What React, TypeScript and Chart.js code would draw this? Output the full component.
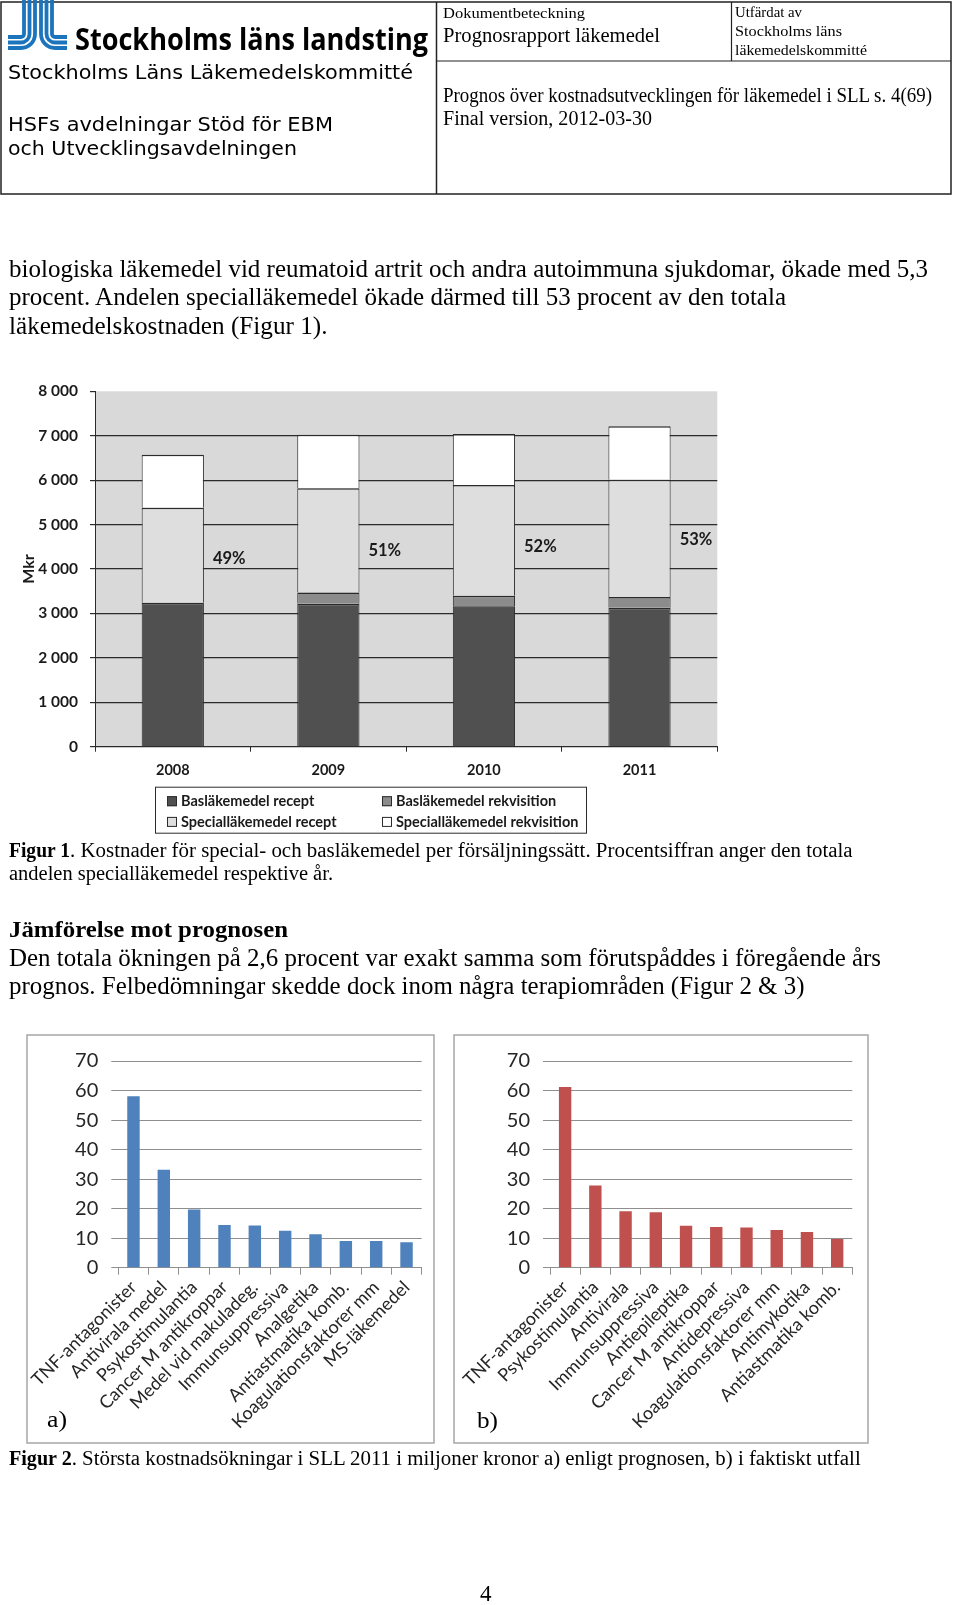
import React, { useEffect, useRef } from "react";
import { Chart, registerables } from "chart.js";

Chart.register(...registerables);

// ---------- Figur 1 data ----------
const years = ["2008", "2009", "2010", "2011"];
const basRecept = [3240, 3220, 3160, 3130];
const basRekvisition = [0, 250, 240, 240];
const specRecept = [2140, 2350, 2490, 2640];
const specRekvisition = [1190, 1200, 1150, 1205];
const shareLabels = ["49%", "51%", "52%", "53%"];
const shareLabelLevels = [4240, 4410, 4500, 4660];
const seriesNames = [
  "Basläkemedel recept",
  "Basläkemedel rekvisition",
  "Specialläkemedel recept",
  "Specialläkemedel rekvisition",
];

// ---------- Figur 2 data ----------
const forecastCategories = [
  "TNF-antagonister",
  "Antivirala medel",
  "Psykostimulantia",
  "Cancer M antikroppar",
  "Medel vid makuladeg.",
  "Immunsuppressiva",
  "Analgetika",
  "Antiastmatika komb.",
  "Koagulationsfaktorer mm",
  "MS-läkemedel",
];
const forecastValues = [58.1, 33.2, 19.7, 14.5, 14.3, 12.5, 11.3, 9.0, 9.0, 8.6];
const actualCategories = [
  "TNF-antagonister",
  "Psykostimulantia",
  "Antivirala",
  "Immunsuppressiva",
  "Antiepileptika",
  "Cancer M antikroppar",
  "Antidepressiva",
  "Koagulationsfaktorer mm",
  "Antimykotika",
  "Antiastmatika komb.",
];
const actualValues = [61.2, 27.8, 19.1, 18.8, 14.2, 13.8, 13.6, 12.8, 12.1, 9.7];

const DARK = "#2b2b2b";
const stackColors = ["#505050", "#8c8c8c", "#dedede", "#ffffff"];

function fmtThousands(v: number) {
  return String(v).replace(/\B(?=(\d{3})+(?!\d))/g, " ");
}

const figur1Overlay = {
  id: "figur1Overlay",
  beforeDraw(chart: any) {
    const { ctx, chartArea } = chart;
    ctx.save();
    ctx.fillStyle = "#ffffff";
    ctx.fillRect(0, 0, chart.width, chart.height);
    ctx.fillStyle = "#d9d9d9";
    ctx.fillRect(chartArea.left, chartArea.top, chartArea.right - chartArea.left, chartArea.bottom - chartArea.top);
    ctx.restore();
  },
  afterDraw(chart: any) {
    const { ctx, chartArea } = chart;
    const y = chart.scales.y;
    ctx.save();
    ctx.fillStyle = "#1a1a1a";
    ctx.font = "bold 16px Lato";
    ctx.textAlign = "center";
    ctx.textBaseline = "middle";
    ctx.translate(29, (chartArea.top + chartArea.bottom) / 2);
    ctx.rotate(-Math.PI / 2);
    ctx.fillText("Mkr", 0, 0);
    ctx.restore();

    ctx.save();
    ctx.fillStyle = "#1a1a1a";
    ctx.font = "bold 16.5px Lato";
    ctx.textAlign = "left";
    ctx.textBaseline = "middle";
    const meta = chart.getDatasetMeta(0);
    shareLabels.forEach((t, i) => {
      const bar: any = meta.data[i];
      const right = bar.x + bar.width / 2;
      ctx.fillText(t, right + 9, y.getPixelForValue(shareLabelLevels[i]));
    });
    ctx.restore();

    ctx.save();
    const boxTop = chartArea.bottom + 40;
    ctx.strokeStyle = DARK;
    ctx.lineWidth = 1;
    ctx.strokeRect(155.5, boxTop + 0.5, 431, 46);
    ctx.font = "bold 14.5px Lato";
    ctx.textAlign = "left";
    ctx.textBaseline = "middle";
    chart.data.datasets.forEach((ds: any, i: number) => {
      const col = i % 2;
      const row = Math.floor(i / 2);
      const sx = col === 0 ? 167 : 382;
      const cy = boxTop + 14.5 + row * 20.7;
      ctx.fillStyle = ds.backgroundColor;
      ctx.fillRect(sx, cy - 5, 10, 10);
      ctx.strokeStyle = DARK;
      ctx.strokeRect(sx + 0.5, cy - 4.5, 9, 9);
      ctx.fillStyle = "#1a1a1a";
      ctx.fillText(ds.label, sx + 14, cy);
    });
    ctx.restore();
  },
};

const whiteBg = {
  id: "whiteBg",
  beforeDraw(chart: any) {
    const { ctx } = chart;
    ctx.save();
    ctx.fillStyle = "#ffffff";
    ctx.fillRect(0, 0, chart.width, chart.height);
    ctx.restore();
  },
};

function makeFigur1Config(): any {
  const series = [basRecept, basRekvisition, specRecept, specRekvisition];
  return {
    type: "bar",
    data: {
      labels: years,
      datasets: series.map((data, i) => ({
        label: seriesNames[i],
        data,
        backgroundColor: stackColors[i],
        borderColor: DARK,
        borderWidth: { top: 1.5, left: 1, right: 1, bottom: 0 },
        borderSkipped: false,
        barPercentage: 0.4,
        categoryPercentage: 1,
      })),
    },
    options: {
      responsive: false,
      animation: false,
      devicePixelRatio: 1,
      layout: { padding: { top: 18.3, right: 12.7, bottom: 60.3, left: 0 } },
      plugins: { legend: { display: false }, tooltip: { enabled: false } },
      scales: {
        x: {
          stacked: true,
          grid: { display: true, drawOnChartArea: false, drawTicks: true, tickLength: 5, color: DARK, offset: true },
          border: { display: true, color: DARK, width: 1 },
          ticks: { color: "#1a1a1a", font: { family: "Lato", size: 14.5, weight: "bold" }, padding: 10, maxRotation: 0 },
          afterFit: (s: any) => {
            s.height = 33;
          },
        },
        y: {
          stacked: true,
          min: 0,
          max: 8000,
          ticks: {
            stepSize: 1000,
            color: "#1a1a1a",
            font: { family: "Lato", size: 15.5, weight: "bold" },
            padding: 12,
            callback: (v: any) => fmtThousands(Number(v)),
          },
          grid: {
            color: (c: any) => (c.tick && c.tick.value === 8000 ? "rgba(0,0,0,0)" : DARK),
            tickColor: DARK,
            tickLength: 5,
            lineWidth: 1.2,
          },
          border: { display: true, color: DARK, width: 1 },
          afterFit: (s: any) => {
            s.width = 95;
          },
        },
      },
    },
    plugins: [figur1Overlay],
  };
}

function makeRankingConfig(labels: string[], values: number[], color: string, yWidth: number, padRight: number): any {
  const GRID = "#8f8f8f";
  return {
    type: "bar",
    data: {
      labels,
      datasets: [
        {
          data: values,
          backgroundColor: color,
          borderWidth: 0,
          barPercentage: 0.41,
          categoryPercentage: 1,
        },
      ],
    },
    options: {
      responsive: false,
      animation: false,
      devicePixelRatio: 1,
      layout: { padding: { top: 20.7, right: padRight, bottom: 0, left: 0 } },
      plugins: { legend: { display: false }, tooltip: { enabled: false } },
      scales: {
        x: {
          grid: { display: true, drawOnChartArea: false, tickLength: 7, color: GRID, offset: true },
          border: { display: true, color: GRID },
          ticks: {
            autoSkip: false,
            minRotation: 45,
            maxRotation: 45,
            color: "#262626",
            font: { family: "Lato", size: 18 },
            padding: 2,
          },
          afterFit: (s: any) => {
            s.height = 174.3;
          },
        },
        y: {
          min: 0,
          max: 70,
          ticks: { stepSize: 10, color: "#262626", font: { family: "Lato", size: 20 }, padding: 13 },
          grid: { color: GRID, tickLength: 7 },
          border: { display: false },
          afterFit: (s: any) => {
            s.width = yWidth;
          },
        },
      },
    },
    plugins: [whiteBg],
  };
}

function ChartCanvas(props: { left: number; top: number; width: number; height: number; make: () => any }) {
  const ref = useRef<HTMLCanvasElement | null>(null);
  useEffect(() => {
    if (!ref.current) return;
    const chart = new Chart(ref.current, props.make());
    return () => chart.destroy();
  }, []);
  return (
    <canvas
      ref={ref}
      width={props.width}
      height={props.height}
      style={{ position: "absolute", left: props.left, top: props.top, width: props.width, height: props.height }}
    />
  );
}

const SERIF = "'Liberation Serif', 'Times New Roman', serif";
const VERD = "'DejaVu Sans', Verdana, sans-serif";

function T(p: { x: number; y: number; w?: number; size: number; bold?: boolean; family?: string; children: string }) {
  return (
    <text
      x={p.x}
      y={p.y}
      fontSize={p.size}
      fontWeight={p.bold ? "bold" : "normal"}
      fontFamily={p.family || SERIF}
      fill="#000"
      {...(p.w ? { textLength: p.w, lengthAdjust: "spacingAndGlyphs" } : {})}
    >
      {p.children}
    </text>
  );
}

function Logo() {
  const blue = "#1c75bc";
  const left = [
    { x: 24, r: 3 },
    { x: 29.5, r: 8.5 },
    { x: 35, r: 14 },
  ];
  const right = [
    { x: 41, r: 14 },
    { x: 46.5, r: 8.5 },
    { x: 52, r: 3 },
  ];
  return (
    <g fill="none" stroke={blue} strokeWidth={3.8}>
      {left.map((s, i) => (
        <path key={"l" + i} d={`M ${s.x} 0 V 34 A ${s.r} ${s.r} 0 0 1 21 ${34 + s.r} H 8`} />
      ))}
      {right.map((s, i) => (
        <path key={"r" + i} d={`M ${s.x} 0 V 34 A ${s.r} ${s.r} 0 0 0 55 ${34 + s.r} H 67`} />
      ))}
    </g>
  );
}

export default function App() {
  return (
    <div style={{ position: "absolute", left: 0, top: 0, width: 960, height: 1605, background: "#fff", overflow: "hidden" }}>
      <ChartCanvas left={0} top={370} width={730} height={470} make={makeFigur1Config} />
      <ChartCanvas
        left={28}
        top={1036}
        width={405}
        height={406}
        make={() => makeRankingConfig(forecastCategories, forecastValues, "#4f81bd", 90.3, 11.3)}
      />
      <ChartCanvas
        left={455}
        top={1036}
        width={412}
        height={406}
        make={() => makeRankingConfig(actualCategories, actualValues, "#c0504d", 95, 14.7)}
      />
      <svg
        width={960}
        height={1605}
        style={{ position: "absolute", left: 0, top: 0, pointerEvents: "none" }}
      >
        <rect x={1} y={2} width={950} height={192} fill="none" stroke="#222" strokeWidth={1.5} />
        <line x1={436.5} y1={2} x2={436.5} y2={194} stroke="#222" strokeWidth={1.5} />
        <line x1={731.5} y1={2} x2={731.5} y2={61} stroke="#222" strokeWidth={1.2} />
        <line x1={436.5} y1={61} x2={951} y2={61} stroke="#222" strokeWidth={1.2} />
        <Logo />
        <T x={75} y={50} w={353} size={30} bold family="'Open Sans', sans-serif">Stockholms läns landsting</T>
        <T x={8} y={79.3} w={405} size={20} family={VERD}>Stockholms Läns Läkemedelskommitté</T>
        <T x={8} y={131} w={325} size={20} family={VERD}>HSFs avdelningar Stöd för EBM</T>
        <T x={8} y={155} w={289} size={20} family={VERD}>och Utvecklingsavdelningen</T>
        <T x={443} y={17.5} w={142} size={15}>Dokumentbeteckning</T>
        <T x={443} y={41.7} w={217} size={21}>Prognosrapport läkemedel</T>
        <T x={735} y={17} w={67} size={15}>Utfärdat av</T>
        <T x={735} y={36} w={107} size={15}>Stockholms läns</T>
        <T x={735} y={54.5} w={132} size={15}>läkemedelskommitté</T>
        <T x={443} y={101.7} w={489} size={20}>Prognos över kostnadsutvecklingen för läkemedel i SLL s. 4(69)</T>
        <T x={443} y={125} w={209} size={20}>Final version, 2012-03-30</T>

        <T x={9} y={276.5} w={919} size={25.5}>biologiska läkemedel vid reumatoid artrit och andra autoimmuna sjukdomar, ökade med 5,3</T>
        <T x={9} y={305} w={777} size={25.5}>procent. Andelen specialläkemedel ökade därmed till 53 procent av den totala</T>
        <T x={9} y={333.5} w={318.5} size={25.5}>läkemedelskostnaden (Figur 1).</T>

        <T x={9} y={856.7} w={61} size={20} bold>Figur 1</T>
        <T x={70} y={856.7} w={782.6} size={20}>. Kostnader för special- och basläkemedel per försäljningssätt. Procentsiffran anger den totala</T>
        <T x={9} y={879.5} w={324} size={20}>andelen specialläkemedel respektive år.</T>

        <T x={9} y={936.7} w={279} size={24} bold>Jämförelse mot prognosen</T>
        <T x={9} y={966} w={872} size={25.5}>Den totala ökningen på 2,6 procent var exakt samma som förutspåddes i föregående års</T>
        <T x={9} y={994} w={795.5} size={25.5}>prognos. Felbedömningar skedde dock inom några terapiområden (Figur 2 &amp; 3)</T>

        <rect x={27} y={1035} width={407} height={408} fill="none" stroke="#a6a6a6" strokeWidth={1.5} />
        <rect x={454} y={1035} width={414} height={408} fill="none" stroke="#a6a6a6" strokeWidth={1.5} />
        <T x={47} y={1427} w={20} size={23}>a)</T>
        <T x={477} y={1428} w={21} size={23}>b)</T>

        <T x={9} y={1465} w={62.7} size={20} bold>Figur 2</T>
        <T x={71.7} y={1465} w={789} size={20}>. Största kostnadsökningar i SLL 2011 i miljoner kronor a) enligt prognosen, b) i faktiskt utfall</T>

        <T x={480} y={1601} size={23}>4</T>
      </svg>
    </div>
  );
}
